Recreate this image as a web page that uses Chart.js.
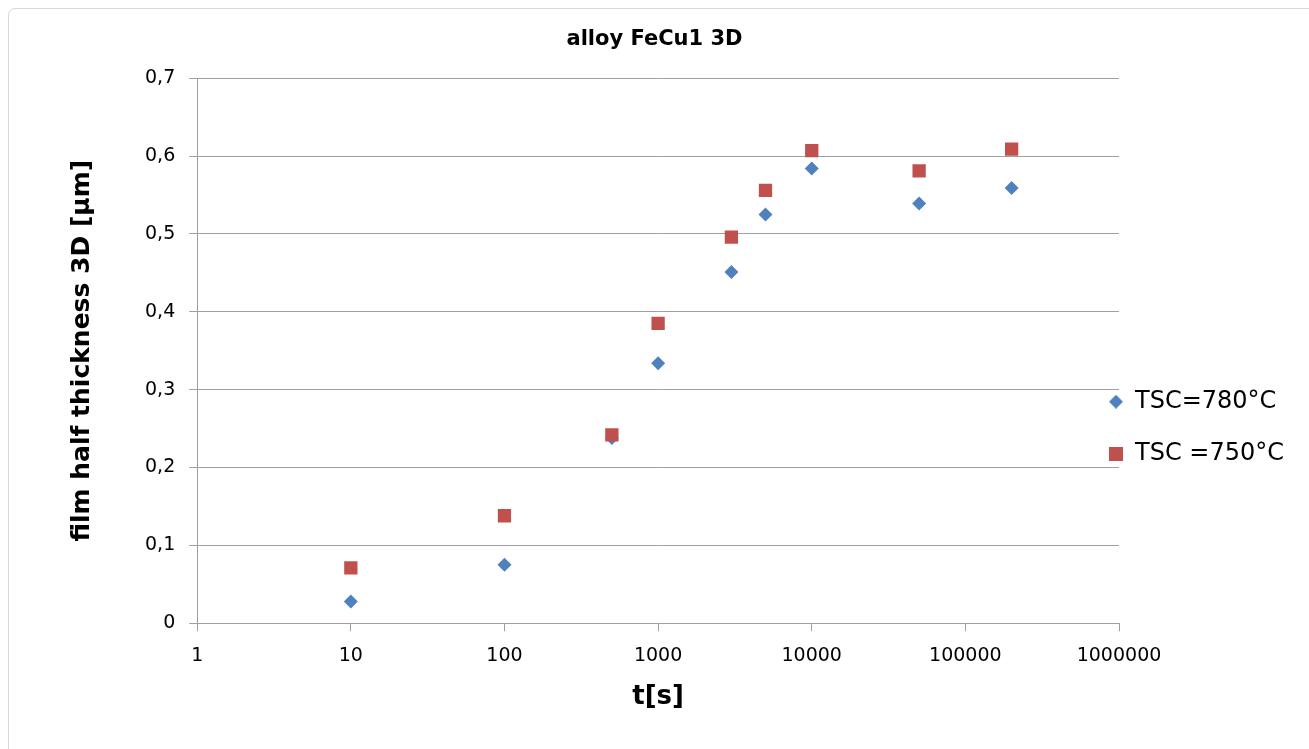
<!DOCTYPE html>
<html>
<head>
<meta charset="utf-8">
<title>alloy FeCu1 3D</title>
<script src="https://cdn.jsdelivr.net/npm/chart.js@4.4.1/dist/chart.umd.min.js"></script>
<style>
  html, body { margin: 0; padding: 0; background: #fff; overflow: hidden; }
  #frame {
    position: absolute; left: 8px; top: 8px; width: 1320px; height: 760px;
    border: 1px solid #cddcdc; border-radius: 7px 0 0 0;
  }
  #chart { position: absolute; left: 0; top: 0; }
</style>
</head>
<body>
<div id="frame"></div>
<canvas id="chart" width="1309" height="749"></canvas>
<script>
// t [s]
const times = [10, 100, 500, 1000, 3000, 5000, 10000, 50000, 200000];
// film half thickness [µm]
const tsc780 = [0.028, 0.075, 0.238, 0.334, 0.451, 0.525, 0.584, 0.539, 0.559];
const tsc750 = [0.071, 0.138, 0.242, 0.385, 0.496, 0.556, 0.607, 0.581, 0.609];
const seriesNames = ['TSC=780°C', 'TSC =750°C'];

const xTicks = [1, 10, 100, 1000, 10000, 100000, 1000000];
const yTicks = [0, 0.1, 0.2, 0.3, 0.4, 0.5, 0.6, 0.7];

const blue = '#4f81bd';
const red = '#c0504d';
const gridGray = '#a0a0a0';

Chart.defaults.font.family = "'DejaVu Sans', sans-serif";
Chart.defaults.color = '#000';

function pts(values) {
  return times.map((t, i) => ({ x: t, y: values[i] }));
}

// small marker images so both legend symbols come out the same size
function marker(shape, color, size) {
  const c = document.createElement('canvas');
  c.width = c.height = size;
  const g = c.getContext('2d');
  g.fillStyle = color;
  if (shape === 'diamond') {
    g.beginPath();
    g.moveTo(size / 2, 0);
    g.lineTo(size, size / 2);
    g.lineTo(size / 2, size);
    g.lineTo(0, size / 2);
    g.closePath();
    g.fill();
  } else {
    g.fillRect(0, 0, size, size);
  }
  return c;
}
const legendMarkers = [marker('diamond', blue, 14), marker('square', red, 14)];

// excel puts the legend a bit into the plot's right margin
const moveLegend = {
  id: 'moveLegend',
  afterLayout(chart) {
    const lg = chart.legend;
    lg.left -= 38;
    lg.right = chart.width;
    lg.width = lg.right - lg.left;
    lg.top += 77;
    lg.bottom += 77;
  }
};

const config = {
  type: 'scatter',
  data: {
    datasets: [{
      label: seriesNames[0],
      data: pts(tsc780),
      pointStyle: 'rectRot',
      pointRadius: 7,
      pointHoverRadius: 7,
      backgroundColor: blue,
      borderColor: blue,
      borderWidth: 0,
      order: 1
    }, {
      label: seriesNames[1],
      data: pts(tsc750),
      pointStyle: 'rect',
      pointRadius: 9.4,
      pointHoverRadius: 9.4,
      backgroundColor: red,
      borderColor: red,
      borderWidth: 0,
      order: 0
    }]
  },
  options: {
    responsive: false,
    animation: false,
    devicePixelRatio: 1,
    layout: { padding: { left: 0, right: 0, top: 0, bottom: 39 } },
    plugins: {
      title: {
        display: true,
        text: 'alloy FeCu1 3D',
        color: '#000',
        font: { size: 21, weight: 'bold', lineHeight: 1.2 },
        padding: { top: 27, bottom: 26 }
      },
      legend: {
        position: 'right',
        fullSize: false,
        maxWidth: 190,
        labels: {
          usePointStyle: true,
          boxWidth: 14,
          boxHeight: 14,
          padding: 28,
          color: '#000',
          font: { size: 24 },
          sort: (a, b) => a.datasetIndex - b.datasetIndex,
          generateLabels: (chart) => {
            const items = Chart.defaults.plugins.legend.labels.generateLabels(chart);
            items.forEach(it => { it.pointStyle = legendMarkers[it.datasetIndex]; });
            return items;
          }
        }
      },
      tooltip: { enabled: false }
    },
    scales: {
      x: {
        type: 'logarithmic',
        min: 1,
        max: 1000000,
        afterBuildTicks: (scale) => { scale.ticks = xTicks.map(v => ({ value: v })); },
        ticks: {
          font: { size: 19 },
          padding: 13,
          autoSkip: false,
          maxRotation: 0,
          callback: (v) => String(v)
        },
        grid: { drawOnChartArea: false, drawTicks: true, tickLength: 8, color: gridGray },
        border: { color: gridGray },
        title: {
          display: true,
          text: 't[s]',
          font: { size: 26, weight: 'bold', lineHeight: 1 },
          padding: { top: 4, bottom: 0 }
        }
      },
      y: {
        min: 0,
        max: 0.7,
        afterBuildTicks: (scale) => { scale.ticks = yTicks.map(v => ({ value: v })); },
        ticks: {
          font: { size: 19 },
          padding: 14,
          callback: (v) => v === 0 ? '0' : v.toFixed(1).replace('.', ',')
        },
        grid: { tickLength: 8, color: gridGray },
        border: { color: gridGray },
        title: {
          display: true,
          text: 'film half thickness 3D [µm]',
          font: { size: 25, weight: 'bold', lineHeight: 1.2 },
          padding: { top: 67, bottom: 34 }
        }
      }
    }
  },
  plugins: [moveLegend]
};

const ctx = document.getElementById('chart');
const chart = new Chart(ctx, config);
</script>
</body>
</html>
